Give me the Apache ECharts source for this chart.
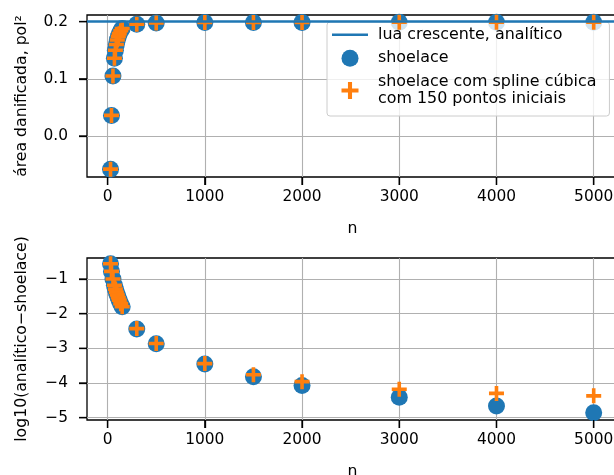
<!DOCTYPE html>
<html>
<head>
<meta charset="utf-8">
<script src="https://cdn.jsdelivr.net/npm/echarts@6/dist/echarts.min.js"></script>
<style>
  body { margin: 0; background: #fff; }
  #chart { width: 614px; height: 475px; }
</style>
</head>
<body>
<div id="chart"></div>
<script>
  // numero de pontos usados no poligono
  let nPontos = [30, 40, 55, 70, 80, 90, 100, 110, 120, 135, 150, 300, 500, 1000, 1500, 2000, 3000, 4000, 5000];
  let analitico = 0.1988;
  let areaShoelace = [-0.058, 0.036, 0.105, 0.136, 0.150, 0.160, 0.168, 0.174, 0.179, 0.184, 0.188, 0.1955, 0.1975, 0.1985, 0.1986, 0.1987, 0.1988, 0.1988, 0.1988];
  let areaSpline = [-0.058, 0.036, 0.105, 0.136, 0.150, 0.160, 0.168, 0.174, 0.179, 0.184, 0.188, 0.1955, 0.1975, 0.1985, 0.1986, 0.1987, 0.1988, 0.1988, 0.1988];
  let logErroShoelace = [-0.56, -0.78, -1.0, -1.18, -1.29, -1.38, -1.46, -1.54, -1.61, -1.71, -1.8, -2.44, -2.87, -3.45, -3.82, -4.07, -4.41, -4.66, -4.86];
  let logErroSpline = [-0.56, -0.78, -1.0, -1.18, -1.29, -1.38, -1.46, -1.54, -1.61, -1.71, -1.8, -2.43, -2.86, -3.44, -3.76, -3.96, -4.18, -4.30, -4.37];
  let xTicks = [0, 1000, 2000, 3000, 4000, 5000];
  let yTicksArea = [0, 0.1, 0.2];
  let yTicksLog = [-5, -4, -3, -2, -1];

  let nomeAnalitico = 'lua crescente, analítico';
  let nomeShoelace = 'shoelace';
  let nomeSpline = 'shoelace com spline cúbica\ncom 150 pontos iniciais';

  let fonte = 'DejaVu Sans';
  let tamFonte = 15.4;
  let azul = '#1f77b4';
  let laranja = '#ff7f0e';
  let cruz = 'path://M38,0h24v38h38v24h-38v38h-24v-38h-38v-24h38z';

  let xMin = -212, xMax = 5250;
  let yLim = [[-0.0717, 0.2116], [-5.067, -0.393]];

  function pares(ys) {
    return nPontos.map(function (n, i) { return [n, ys[i]]; });
  }

  function eixoX(idx) {
    return {
      gridIndex: idx,
      type: 'value',
      min: xMin,
      max: xMax,
      name: 'n',
      nameLocation: 'middle',
      nameGap: 44,
      nameTextStyle: {fontFamily: fonte, fontSize: 15.7, color: '#000'},
      axisLine: {show: false, onZero: false},
      axisTick: {show: true, length: 8, customValues: xTicks, lineStyle: {color: '#000', width: 1.3}},
      axisLabel: {customValues: xTicks, margin: 12, fontFamily: fonte, fontSize: tamFonte, color: '#000',
        formatter: function (v) { return String(v); }},
      splitLine: {show: true, lineStyle: {color: '#b0b0b0', width: 1.1}}
    };
  }

  function eixoY(idx, ticks, nome, fmt) {
    return {
      gridIndex: idx,
      type: 'value',
      min: yLim[idx][0],
      max: yLim[idx][1],
      name: nome,
      nameLocation: 'middle',
      nameGap: 57,
      nameTextStyle: {fontFamily: fonte, fontSize: 15.7, color: '#000'},
      axisLine: {show: false, onZero: false},
      axisTick: {show: true, length: 8, customValues: ticks, lineStyle: {color: '#000', width: 1.3}},
      axisLabel: {customValues: ticks, margin: 19, fontFamily: fonte, fontSize: tamFonte, color: '#000', formatter: fmt},
      splitLine: {show: true, lineStyle: {color: '#b0b0b0', width: 1.1}}
    };
  }

  // tracinhos para fora do eixo, desenhados por uma serie custom (passa pela escala do eixo)
  function serieTracos(g, vertical) {
    let dados = vertical
      ? xTicks.map(function (v) { return [v, yLim[g][0]]; })
      : (g === 0 ? yTicksArea : yTicksLog).map(function (v) { return [xMin, v]; });
    return {
      type: 'custom',
      xAxisIndex: g,
      yAxisIndex: g,
      silent: true,
      clip: false,
      z: 10,
      data: dados,
      encode: {x: 0, y: 1},
      renderItem: function (params, api) {
        let p = api.coord([api.value(0), api.value(1)]);
        let shape = vertical
          ? {x1: p[0], y1: p[1], x2: p[0], y2: p[1] + 8}
          : {x1: p[0] - 8, y1: p[1], x2: p[0], y2: p[1]};
        return {type: 'line', shape: shape, style: {stroke: '#000', lineWidth: 1.3}};
      }
    };
  }

  let chart = echarts.init(document.getElementById('chart'));
  let option = {
    animation: false,
    backgroundColor: '#fff',
    grid: [
      {left: 87, top: 15, width: 531, height: 162, show: true, borderColor: '#000', borderWidth: 1.3, containLabel: false, outerBoundsMode: 'none'},
      {left: 87, top: 258, width: 531, height: 162, show: true, borderColor: '#000', borderWidth: 1.3, containLabel: false, outerBoundsMode: 'none'}
    ],
    xAxis: [eixoX(0), eixoX(1)],
    yAxis: [
      eixoY(0, yTicksArea, 'área danificada, pol²', function (v) { return v.toFixed(1); }),
      eixoY(1, yTicksLog, 'log10(analítico−shoelace)', function (v) { return String(v).replace('-', '−'); })
    ],
    legend: {
      data: [
        {name: nomeAnalitico, icon: 'path://M0,0h36v2.4h-36z'},
        {name: nomeShoelace, icon: 'circle'},
        {name: nomeSpline, icon: cruz}
      ],
      orient: 'vertical',
      left: 327,
      top: 22,
      padding: [4, 13, 8, 5],
      itemGap: 6,
      itemWidth: 36,
      itemHeight: 17,
      backgroundColor: 'rgba(255,255,255,0.8)',
      borderColor: '#cccccc',
      borderWidth: 1,
      borderRadius: 3,
      textStyle: {fontFamily: fonte, fontSize: 15.9, lineHeight: 17.5, color: '#000', padding: [0, 0, 0, 5]}
    },
    series: [
      {
        name: nomeAnalitico,
        type: 'line',
        xAxisIndex: 0,
        yAxisIndex: 0,
        data: [],
        symbol: 'none',
        itemStyle: {color: azul},
        lineStyle: {color: azul, width: 2.5},
        markLine: {
          symbol: ['none', 'none'],
          silent: true,
          label: {show: false},
          lineStyle: {color: azul, width: 2.5, type: 'solid'},
          data: [{yAxis: analitico}]
        },
        z: 2
      },
      {name: nomeShoelace, type: 'scatter', xAxisIndex: 0, yAxisIndex: 0, data: pares(areaShoelace),
        symbol: 'circle', symbolSize: 17, itemStyle: {color: azul, opacity: 1}, z: 3},
      {name: nomeSpline, type: 'scatter', xAxisIndex: 0, yAxisIndex: 0, data: pares(areaSpline),
        symbol: cruz, symbolSize: 15, itemStyle: {color: laranja, opacity: 1}, z: 4},
      {name: nomeShoelace, type: 'scatter', xAxisIndex: 1, yAxisIndex: 1, data: pares(logErroShoelace),
        symbol: 'circle', symbolSize: 17, itemStyle: {color: azul, opacity: 1}, z: 3},
      {name: nomeSpline, type: 'scatter', xAxisIndex: 1, yAxisIndex: 1, data: pares(logErroSpline),
        symbol: cruz, symbolSize: 15, itemStyle: {color: laranja, opacity: 1}, z: 4},
      serieTracos(0, true),
      serieTracos(0, false),
      serieTracos(1, true),
      serieTracos(1, false)
    ]
  };
  chart.setOption(option);
</script>
</body>
</html>
